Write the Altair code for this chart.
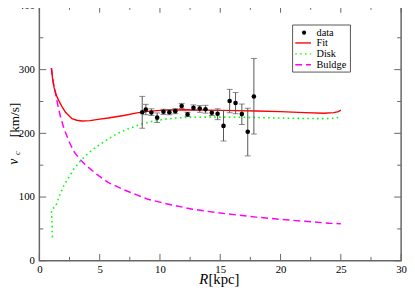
import altair as alt
import pandas as pd

# ---- data ----
R_data = [8.53, 8.83, 9.29, 9.77, 10.29, 10.78, 11.27, 11.80, 12.29, 12.78,
          13.30, 13.78, 14.30, 14.78, 15.27, 15.78, 16.27, 16.79, 17.28, 17.79]
v_data = [233.0, 237.4, 232.8, 224.6, 233.8, 233.2, 234.8, 243.0, 229.7, 240.0,
          239.0, 237.8, 232.3, 230.8, 211.7, 250.8, 247.7, 230.2, 202.5, 257.8]
v_lo = [208.0, 229.2, 228.0, 217.0, 229.7, 229.2, 230.8, 239.0, 226.6, 235.8,
        233.0, 231.7, 228.0, 221.5, 188.0, 232.3, 230.8, 213.8, 164.6, 198.9]
v_hi = [258.0, 245.5, 238.5, 232.0, 237.8, 237.2, 238.8, 247.0, 233.0, 244.6,
        243.5, 244.0, 235.8, 238.5, 235.8, 269.0, 264.0, 246.0, 239.4, 317.4]

R_fit = [1.0, 1.1, 1.22, 1.4, 1.62, 1.9, 2.17, 2.7, 3.1, 3.52, 4.2, 4.87, 5.7, 7.0,
         8.1, 9.0, 10.3, 12.0, 14.0, 16.3, 18.0, 20.0, 22.0, 23.6, 24.4, 24.8, 25.0]
v_fit = [302.5, 285.0, 272.0, 260.0, 251.0, 241.0, 233.0, 223.0, 220.5, 219.4, 220.0,
         222.0, 224.0, 228.0, 232.0, 234.5, 236.5, 237.0, 236.5, 235.7, 235.0, 234.0,
         232.5, 231.5, 232.5, 234.0, 236.5]

R_disk = [1.08, 1.06, 1.04, 1.0, 1.1, 1.35, 1.62, 2.03, 2.44, 2.84, 3.38, 4.06, 4.74,
          5.7, 6.5, 7.5, 8.4, 9.3, 10.3, 11.3, 12.2, 14.0, 16.3, 18.0, 20.0, 22.0,
          23.6, 24.5, 25.0]
v_disk = [37.0, 50.0, 62.0, 79.0, 82.0, 85.0, 100.0, 118.0, 131.0, 143.5, 156.0, 169.0,
          179.0, 191.0, 200.0, 208.0, 214.0, 218.5, 222.0, 224.0, 225.0, 225.5, 225.3,
          224.8, 224.0, 223.3, 223.0, 223.8, 225.5]

R_bulge = [1.0, 1.15, 1.35, 1.55, 1.76, 2.03, 2.3, 2.44, 2.84, 3.38, 3.93, 4.74, 5.7,
           7.05, 8.13, 8.94, 10.0, 11.0, 12.7, 14.5, 16.3, 18.0, 20.0, 22.0, 24.0, 25.0]
v_bulge = [302.0, 280.0, 261.5, 242.0, 225.5, 208.0, 195.0, 188.0, 172.0, 159.0, 148.6,
           136.0, 123.0, 111.0, 103.0, 97.0, 92.0, 87.5, 81.0, 76.0, 72.0, 68.5, 65.0,
           62.0, 59.0, 58.0]

x_major = [0, 5, 10, 15, 20, 25, 30]
x_minor = [2.5, 7.5, 12.5, 17.5, 22.5, 27.5]
y_major = [0, 100, 200, 300, 400]
y_minor = [50, 150, 250, 350]

legend_labels = ["data", "Fit", "Disk", "Buldge"]
series_colors = ["#000000", "#ff0000", "#00ff00", "#ff00ff"]

# ---- layout ----
W, H = 369, 260
FONT = "Liberation Serif"
FRAME = "#666666"

xs = alt.Scale(domain=[0, 30], nice=False, zero=False)
ys = alt.Scale(domain=[0, 400], nice=False, zero=False)
x_axis = alt.Axis(values=x_major, ticks=False, domain=False, grid=False, title=None,
                  labelFont=FONT, labelFontSize=11, labelColor="black",
                  labelPadding=3, labelFlush=False, labelOverlap=False)
y_axis = alt.Axis(values=y_major, ticks=False, domain=False, grid=False, title=None,
                  labelFont=FONT, labelFontSize=11, labelColor="black",
                  labelPadding=5, labelOverlap=False)


def X(f):
    return alt.X(f, type="quantitative", scale=xs, axis=x_axis)


def Y(f):
    return alt.Y(f, type="quantitative", scale=ys, axis=y_axis)


pts = pd.DataFrame({"R": R_data, "v": v_data, "lo": v_lo, "hi": v_hi})
fit = pd.DataFrame({"R": R_fit, "v": v_fit, "i": range(len(R_fit))})
disk = pd.DataFrame({"R": R_disk, "v": v_disk, "i": range(len(R_disk))})
bulge = pd.DataFrame({"R": R_bulge, "v": v_bulge, "i": range(len(R_bulge))})
one = pd.DataFrame({"a": [0]})

layers = []

# ticks (inward, mirrored)
xmaj = pd.DataFrame({"t": x_major})
xmin = pd.DataFrame({"t": x_minor})
ymaj = pd.DataFrame({"t": y_major})
ymin = pd.DataFrame({"t": y_minor})
tick_style = dict(color=FRAME, strokeWidth=1)
for df, L in ((xmaj, 7), (xmin, 4)):
    layers.append(alt.Chart(df).mark_rule(**tick_style).encode(
        x=X("t"), y=alt.value(H), y2=alt.value(H - L)))
    layers.append(alt.Chart(df).mark_rule(**tick_style).encode(
        x=X("t"), y=alt.value(0), y2=alt.value(L)))
for df, L in ((ymaj, 7), (ymin, 4)):
    layers.append(alt.Chart(df).mark_rule(**tick_style).encode(
        y=Y("t"), x=alt.value(0), x2=alt.value(L)))
    layers.append(alt.Chart(df).mark_rule(**tick_style).encode(
        y=Y("t"), x=alt.value(W), x2=alt.value(W - L)))

# curves
layers.append(alt.Chart(bulge).mark_line(color="#ff00ff", strokeWidth=1.5,
                                         strokeDash=[7, 4]).encode(
    x=X("R"), y=Y("v"), order="i:Q"))
layers.append(alt.Chart(disk).mark_line(color="#00ff00", strokeWidth=1.6,
                                        strokeDash=[1.6, 3.4]).encode(
    x=X("R"), y=Y("v"), order="i:Q"))
layers.append(alt.Chart(fit).mark_line(color="#ff0000", strokeWidth=1.4).encode(
    x=X("R"), y=Y("v"), order="i:Q"))

# error bars and data points
layers.append(alt.Chart(pts).mark_rule(color="#555555", strokeWidth=1).encode(
    x=X("R"), y=Y("lo"), y2="hi"))
layers.append(alt.Chart(pts).mark_tick(color="#555555", orient="horizontal",
                                       size=6, thickness=1).encode(x=X("R"), y=Y("lo")))
layers.append(alt.Chart(pts).mark_tick(color="#555555", orient="horizontal",
                                       size=6, thickness=1).encode(x=X("R"), y=Y("hi")))
layers.append(alt.Chart(pts).mark_point(filled=True, color="black", size=22,
                                        opacity=1).encode(x=X("R"), y=Y("v")))

# legend (manual)
lx0, lx1, ly0, ly1 = 258.3, 317.3, 19.5, 67.5
layers.append(alt.Chart(one).mark_rect(fill="white", stroke="#555555",
                                       strokeWidth=1).encode(
    x=alt.value(lx0), x2=alt.value(lx1), y=alt.value(ly0), y2=alt.value(ly1)))
row_y = [27.3, 37.8, 49.0, 60.0]
layers.append(alt.Chart(one).mark_point(filled=True, color="black", size=18,
                                        opacity=1).encode(
    x=alt.value(270), y=alt.value(row_y[0])))
dashes = [None, None, [1.6, 3.4], [7, 4]]
for k in (1, 2, 3):
    kw = dict(color=series_colors[k], strokeWidth=1.4)
    if dashes[k] is not None:
        kw["strokeDash"] = dashes[k]
    layers.append(alt.Chart(one).mark_rule(**kw).encode(
        x=alt.value(261), x2=alt.value(277), y=alt.value(row_y[k])))
for k, lab in enumerate(legend_labels):
    layers.append(alt.Chart(one).mark_text(text=lab, font=FONT, fontSize=10.5,
                                           align="left", baseline="middle",
                                           color="black").encode(
        x=alt.value(282.7), y=alt.value(row_y[k])))

# axis titles
layers.append(alt.Chart(one).mark_text(text="R", font=FONT, fontSize=15,
                                       fontStyle="italic", align="left",
                                       baseline="alphabetic").encode(
    x=alt.value(163), y=alt.value(283.5)))
layers.append(alt.Chart(one).mark_text(text="[kpc]", font=FONT, fontSize=15,
                                       align="left", baseline="alphabetic").encode(
    x=alt.value(172.5), y=alt.value(283.5)))
layers.append(alt.Chart(one).mark_text(text="v", font=FONT, fontSize=14,
                                       fontStyle="italic", align="left",
                                       baseline="alphabetic", angle=270).encode(
    x=alt.value(-21.5), y=alt.value(162)))
layers.append(alt.Chart(one).mark_text(text="c", font=FONT, fontSize=9,
                                       fontStyle="italic", align="left",
                                       baseline="alphabetic", angle=270).encode(
    x=alt.value(-19.5), y=alt.value(152)))
layers.append(alt.Chart(one).mark_text(text="[km/s]", font=FONT, fontSize=13.5,
                                       align="left", baseline="alphabetic",
                                       angle=270).encode(
    x=alt.value(-21), y=alt.value(134)))

chart = alt.layer(*layers).properties(
    width=W, height=H,
    autosize=alt.AutoSizeParams(type="none"),
    padding={"left": 32, "top": -5, "right": 6, "bottom": 29},
    background="white",
).configure_view(stroke=FRAME, strokeWidth=1.5)

chart.save("out.html", embed_options={"renderer": "svg", "actions": False})
